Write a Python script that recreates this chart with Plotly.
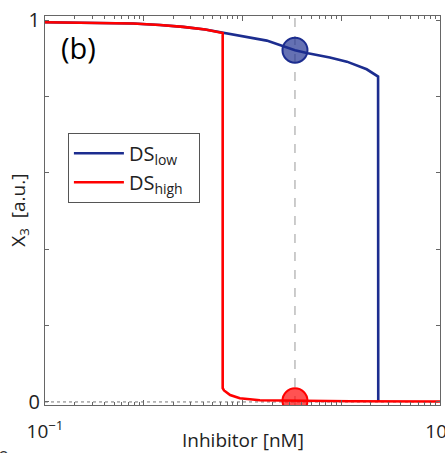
import plotly.graph_objects as go

# ---- data ----
blue_x = [0.1, 0.286, 0.78, 1.46, 2.5, 4.2, 6.2, 10.6, 17.6, 34, 46, 76.6, 114, 181, 218, 236, 237]
blue_y = [0.994, 0.993, 0.991, 0.987, 0.982, 0.975, 0.967, 0.957, 0.946, 0.921, 0.913, 0.902, 0.891, 0.871, 0.859, 0.852, 0.0]

red_x = [0.1, 0.286, 0.78, 1.46, 2.5, 4.2, 6.2, 6.3, 6.3, 6.5, 7.5, 9.4, 15, 34, 123, 1000]
red_y = [0.994, 0.993, 0.991, 0.987, 0.982, 0.975, 0.967, 0.966, 0.036, 0.03, 0.018, 0.0097, 0.0045, 0.003, 0.002, 0.001]

marker_x = [34, 34]
marker_y = [0.921, 0.003]

zero_line_x = [0.1, 1000]
zero_line_y = [0, 0]

x_major = [0.1, 1, 10, 100, 1000]
x_major_text = ["10<sup>−1</sup>", "", "", "", "10<sup>3</sup>"]
x_minor = [m * d for d in [0.1, 1, 10, 100] for m in range(2, 10)]
y_ticks = [0, 0.2, 0.4, 0.6, 0.8, 1]
y_ticktext = ["0", "", "", "", "", "1"]

BLUE = "#1c2d8f"
RED = "#ff0000"
FONT = "Open Sans"

fig = go.Figure()

fig.add_trace(go.Scatter(x=zero_line_x, y=zero_line_y, mode="lines",
                         line=dict(color="#777777", width=1, dash="dot"),
                         showlegend=False, hoverinfo="skip"))
fig.add_trace(go.Scatter(x=blue_x, y=blue_y, mode="lines", name="DS<sub>low</sub>&nbsp;&nbsp;",
                         line=dict(color=BLUE, width=2.6)))
fig.add_trace(go.Scatter(x=red_x, y=red_y, mode="lines", name="DS<sub>high</sub>&nbsp;&nbsp;",
                         line=dict(color=RED, width=2.6)))
fig.add_trace(go.Scatter(x=marker_x, y=marker_y, mode="markers", showlegend=False,
                         marker=dict(size=25,
                                     color=["rgba(28,45,143,0.68)", "rgba(255,0,0,0.68)"],
                                     line=dict(color=[BLUE, RED], width=2))))

fig.add_shape(type="line", xref="x", yref="paper", x0=marker_x[0], x1=marker_x[0], y0=0, y1=1,
              line=dict(color="#999999", width=1, dash="dash"), layer="below")

fig.add_annotation(text="(b)", xref="paper", yref="paper", x=0.035, y=0.92,
                   xanchor="left", yanchor="middle", showarrow=False,
                   font=dict(family=FONT, size=29, color="black"))
fig.add_annotation(text="X<sub>3</sub>  [a.u.]", xref="paper", yref="paper", x=-0.068, y=0.5,
                   xanchor="center", yanchor="middle", textangle=-90, showarrow=False,
                   font=dict(family=FONT, size=19, color="#222222"))
fig.add_annotation(text="Inhibitor [nM]", xref="paper", yref="paper", x=0.5, y=-0.09,
                   xanchor="center", yanchor="middle", showarrow=False,
                   font=dict(family=FONT, size=19, color="#222222"))
# fragment of a neighbouring panel's text, cut at the bottom-left corner
fig.add_annotation(text="e", xref="paper", yref="paper", x=-0.106, y=-0.087,
                   xanchor="center", yanchor="top", showarrow=False,
                   font=dict(family=FONT, size=19, color="#333333"))

fig.update_layout(
    width=445, height=453,
    margin=dict(l=45, r=5, t=16, b=48, autoexpand=False),
    paper_bgcolor="white", plot_bgcolor="white",
    font=dict(family=FONT, size=19, color="#222222"),
    showlegend=True,
    legend=dict(x=0.058, y=0.70, xanchor="left", yanchor="top",
                bordercolor="#555555", borderwidth=1, bgcolor="white",
                font=dict(family=FONT, size=20, color="#222222"),
                itemwidth=50, tracegroupgap=0),
    xaxis=dict(type="log", range=[-1, 3], showgrid=False, zeroline=False, automargin=False,
               showline=True, linecolor="#666666", linewidth=1, mirror="ticks",
               ticks="inside", ticklen=5, tickcolor="#666666",
               tickmode="array", tickvals=x_major, ticktext=x_major_text,
               ticklabeloverflow="allow", ticklabelstandoff=9,
               minor=dict(tickmode="array", tickvals=x_minor, ticks="inside",
                          ticklen=3, tickcolor="#666666", showgrid=False),
               tickfont=dict(family=FONT, size=19, color="#222222")),
    yaxis=dict(range=[-0.008, 1.0105], showgrid=False, zeroline=False, automargin=False,
               showline=True, linecolor="#666666", linewidth=1, mirror="ticks",
               ticks="inside", ticklen=4, tickcolor="#666666",
               tickmode="array", tickvals=y_ticks, ticktext=y_ticktext,
               tickfont=dict(family=FONT, size=20, color="#222222")),
)

fig.write_html("out.html", config={"displayModeBar": False},
               post_script="document.body.style.margin='0';document.body.style.overflow='hidden';")
